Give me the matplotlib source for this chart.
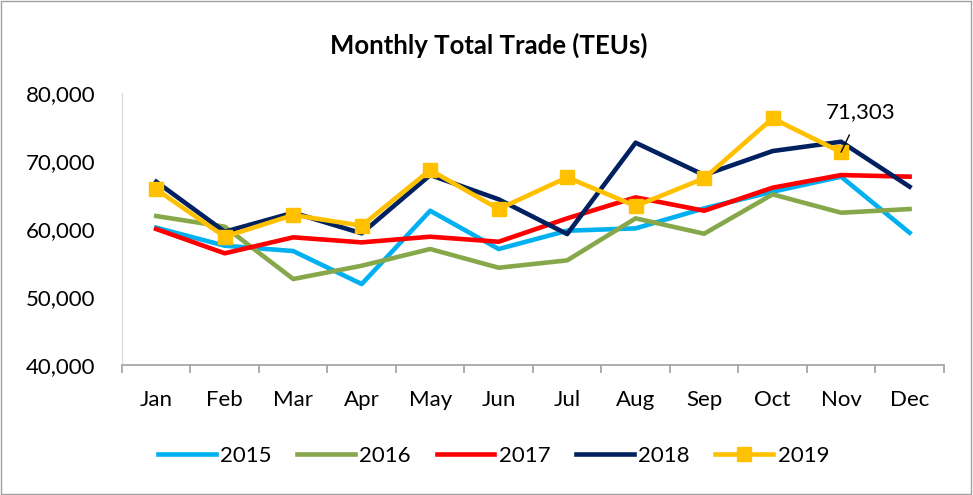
import numpy as np
import matplotlib.pyplot as plt
from matplotlib.patches import Rectangle

plt.rcParams['font.family'] = ['Lato', 'DejaVu Sans']

months = ['Jan', 'Feb', 'Mar', 'Apr', 'May', 'Jun', 'Jul', 'Aug', 'Sep', 'Oct', 'Nov', 'Dec']
y2015 = [60200, 57550, 56760, 51910, 62690, 57060, 59750, 60100, 63040, 65490, 67700, 59460]
y2016 = [61910, 60340, 52650, 54600, 57060, 54310, 55390, 61570, 59310, 65100, 62400, 62940]
y2017 = [60000, 56430, 58780, 58040, 58870, 58130, 61570, 64660, 62690, 66080, 67940, 67700]
y2018 = [66960, 59600, 62400, 59370, 67940, 64370, 59260, 72700, 67940, 71470, 72840, 66230]
y2019 = [65840, 58870, 62060, 60490, 68680, 62940, 67600, 63380, 67460, 76280, 71303]

fig = plt.figure(figsize=(9.73, 4.95), dpi=100)
ax = fig.add_axes([0.1254, 0.2626, 0.8446, 0.5494])

x = np.arange(len(months))
lw = 3.3
ax.plot(x, y2015, color='#00B0F0', lw=lw, label='2015')
ax.plot(x, y2016, color='#86A84A', lw=lw, label='2016')
ax.plot(x, y2017, color='#FF0000', lw=lw, label='2017')
ax.plot(x, y2018, color='#002060', lw=lw, label='2018')
ax.plot(x[:len(y2019)], y2019, color='#FFC000', lw=lw, marker='s', ms=10, label='2019', clip_on=False)

ax.annotate(f'{y2019[-1]:,}', xy=(10, y2019[-1]), xytext=(10.28, 77200),
            ha='center', va='center', fontsize=16,
            arrowprops=dict(arrowstyle='-', color='black', lw=1, shrinkA=8, shrinkB=0))

ax.set_ylim(40000, 80000)
ax.set_xlim(-0.5, 11.5)
ax.set_yticks([40000, 50000, 60000, 70000, 80000])
ax.set_yticklabels([f'{v:,}' for v in [40000, 50000, 60000, 70000, 80000]], fontsize=16)
ax.tick_params(axis='y', length=0, pad=19)

ax.set_xticks(x)
ax.set_xticklabels(months, fontsize=16)
ax.set_xticks(np.arange(-0.5, 12, 1), minor=True)
ax.tick_params(axis='x', which='major', length=0, pad=18)
ax.tick_params(axis='x', which='minor', length=6, color='#A0A0A0', width=1.2)

for s in ['top', 'right']:
    ax.spines[s].set_visible(False)
ax.spines['bottom'].set_color('#A0A0A0')
ax.spines['bottom'].set_linewidth(1.2)
ax.spines['left'].set_color('#D9D9D9')

fig.text(0.502, 0.909, 'Monthly Total Trade (TEUs)', ha='center', va='center',
         fontsize=18.5, fontweight='bold')

ax.legend(loc='center', bbox_to_anchor=(0.452, -0.335), ncol=5, frameon=False,
          fontsize=16, handlelength=2.6, handletextpad=0.2, columnspacing=1.15)

fig.patches.append(Rectangle((0.001, 0.002), 0.997, 0.996, transform=fig.transFigure,
                             fill=False, edgecolor='#A0A0A0', lw=1))

fig.savefig('out.png', dpi=100)
